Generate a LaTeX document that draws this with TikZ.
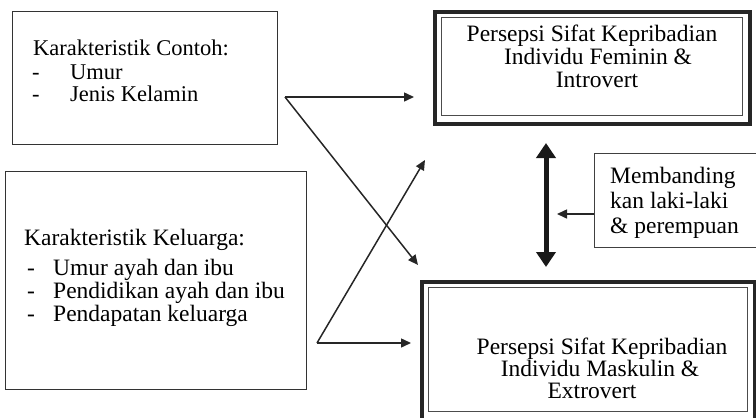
\documentclass[tikz,border=0pt]{standalone}
\usepackage{fontspec}
\setmainfont{Liberation Serif}
\usetikzlibrary{arrows.meta}
\begin{document}
\begin{tikzpicture}[x=1pt,y=-1pt,
  txt/.style={inner sep=0pt,font=\fontsize{23.5}{25}\selectfont},
  txts/.style={inner sep=0pt,font=\fontsize{22.5}{24}\selectfont},
  thinbox/.style={draw=black!80,line width=1pt},
  outerframe/.style={draw=black!85,line width=3.5pt},
  innerframe/.style={draw=black!70,line width=1pt},
  conn/.style={draw=black!85,line width=1.5pt,-{Triangle[length=10pt,width=9pt]}},
  bigarrow/.style={draw=black!90,line width=5pt,{Triangle[length=15pt,width=19pt]}-{Triangle[length=15pt,width=19pt]}}
]
\useasboundingbox (0,0) rectangle (756,418);

% Box 1
\node[thinbox,minimum width=265pt,minimum height=133pt,anchor=north west,inner sep=0pt] (b1) at (12,11) {};
\node[txts,anchor=base west] (b1t) at (33,55) {Karakteristik Contoh:};
\node[txts,anchor=base west] (b1d1) at (32,79) {-};
\node[txts,anchor=base west] (b1i1) at (70,79) {Umur};
\node[txts,anchor=base west] (b1d2) at (32,101) {-};
\node[txts,anchor=base west] (b1i2) at (70,101) {Jenis Kelamin};

% Box 2
\node[thinbox,minimum width=301pt,minimum height=218pt,anchor=north west,inner sep=0pt] (b2) at (5,171) {};
\node[txt,anchor=base west] (b2t) at (24,245) {Karakteristik Keluarga:};
\node[txt,anchor=base west] (b2d1) at (27,275) {-};
\node[txt,anchor=base west] (b2i1) at (53,275) {Umur ayah dan ibu};
\node[txt,anchor=base west] (b2d2) at (27,298) {-};
\node[txt,anchor=base west] (b2i2) at (53,298) {Pendidikan ayah dan ibu};
\node[txt,anchor=base west] (b2d3) at (27,321) {-};
\node[txt,anchor=base west] (b2i3) at (53,321) {Pendapatan keluarga};

% Feminin box
\node[outerframe,minimum width=315pt,minimum height=112pt,anchor=north west,inner sep=0pt] (fem) at (433,10) {};
\draw[innerframe] (441,17) rectangle (742,115);
\node[txt,anchor=base] (f1) at (592,41) {Persepsi Sifat Kepribadian};
\node[txt,anchor=base] (f2) at (598,64) {Individu Feminin \&};
\node[txt,anchor=base] (f3) at (597,87) {Introvert};

% Maskulin box
\node[outerframe,minimum width=333pt,minimum height=138pt,anchor=north west,inner sep=0pt] (mas) at (420,280) {};
\draw[innerframe] (428,287) rectangle (747,411);
\node[txt,anchor=base] (m1) at (602,354) {Persepsi Sifat Kepribadian};
\node[txt,anchor=base] (m2) at (600,376) {Individu Maskulin \&};
\node[txt,anchor=base] (m3) at (592,398) {Extrovert};

% Membanding box (open at right edge)
\draw[draw=black!75,line width=0.9pt] (756,153) -- (594,153) -- (594,247) -- (756,247);
\coordinate (mb) at (594,214);
\node[txt,anchor=base west] (mb1) at (610,183) {Membanding};
\node[txt,anchor=base west] (mb2) at (610,208) {kan laki-laki};
\node[txt,anchor=base west] (mb3) at (610,233) {\& perempuan};

% vertical double arrow
\coordinate (vt) at (546,143);
\coordinate (vb) at (546,267);
\draw[bigarrow] (vt) -- (vb);
\coordinate (vm) at (557,214);
\draw[conn] (mb) -- (vm);

% crossing connectors
\coordinate (j1) at (285,97);
\coordinate (j2) at (317,343);
\coordinate (t1) at (414,97);
\coordinate (t2) at (418,265);
\coordinate (t3) at (425,160);
\coordinate (t4) at (411,343);
\draw[conn] (j1) -- (t1);
\draw[conn] (j1) -- (t2);
\draw[conn] (j2) -- (t3);
\draw[conn] (j2) -- (t4);
\end{tikzpicture}
\end{document}
